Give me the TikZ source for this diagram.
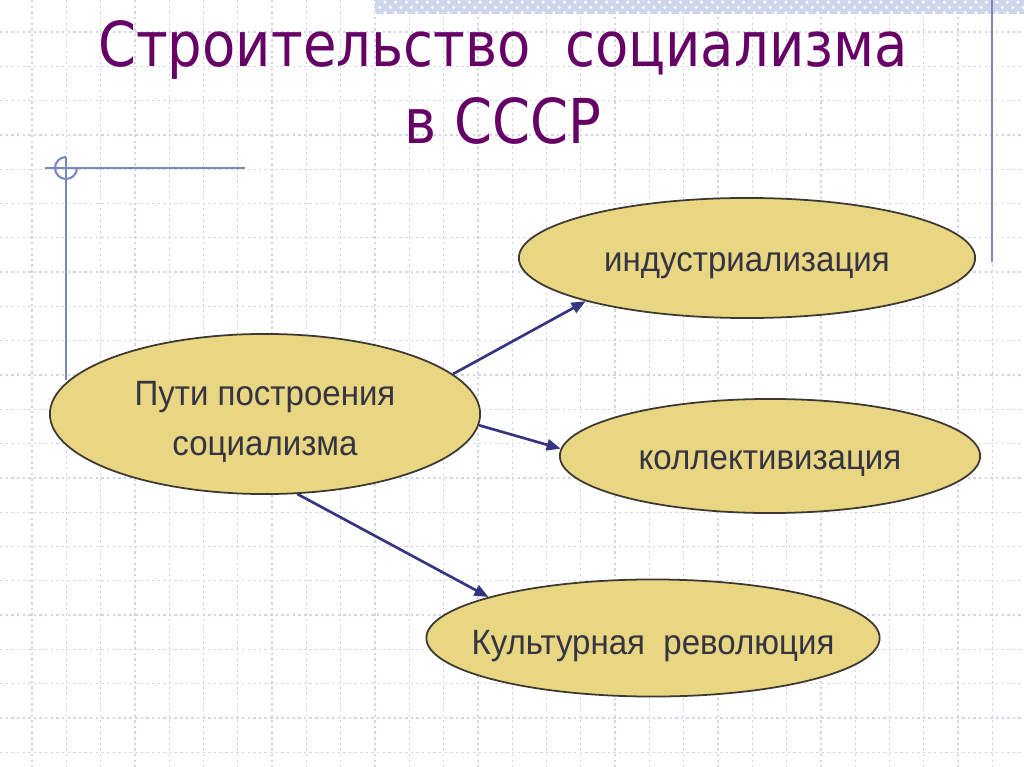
\documentclass[tikz,border=0pt]{standalone}
\usepackage{fontspec}
\setmainfont[FakeStretch=0.94]{Liberation Sans}
\newfontfamily\titlefont[FakeStretch=0.88]{DejaVu Sans}
\usetikzlibrary{shapes.geometric, arrows.meta, patterns}

\definecolor{gridcol}{RGB}{208,214,228}
\definecolor{decocol}{RGB}{122,136,192}
\definecolor{bandcol}{RGB}{206,214,236}
\definecolor{titlecol}{RGB}{102,0,102}
\definecolor{ovalcol}{RGB}{233,214,130}
\definecolor{rimcol}{RGB}{62,56,50}
\definecolor{wordcol}{RGB}{52,52,66}
\definecolor{linkcol}{RGB}{52,52,128}

\tikzset{
  gridline/.style={draw=gridcol, line width=0.35pt, dash pattern=on 0.7pt off 0.9pt},
  deco/.style={draw=decocol, line width=0.6pt},
  way/.style={ellipse, draw=rimcol, fill=ovalcol, line width=0.5pt, inner sep=0pt},
  waytext/.style={text=wordcol, font=\fontsize{10}{14.2}\selectfont, align=center, yshift=-0.08cm},
  link/.style={draw=linkcol, line width=0.75pt, -{Triangle[length=4pt,width=3.2pt]}},
}

\begin{document}
\begin{tikzpicture}[x=0.01cm, y=-0.01cm]
        \useasboundingbox (0,0) rectangle (1024,767);
        \fill[white] (0,0) rectangle (1024,767);
        % squared paper
        \foreach \i in {0,...,28} \draw[gridline] (32+34.3*\i,0) -- (32+34.3*\i,767);
        \foreach \j in {0,...,21} \draw[gridline] (0,32+34.3*\j) -- (1024,32+34.3*\j);
        %
        \fill[bandcol] (375,0) rectangle (1024,14);
        \fill[pattern=crosshatch dots, pattern color=white] (375,0) rectangle (1024,14);
        %
        \draw[deco] (992,0) -- (992,262);
        \draw[deco] (45,168) -- (245,168);
        \draw[deco] (66,157) -- (66,380);
        \draw[deco] (66,157) arc[start angle=270, end angle=0, radius=11];
        % title
        \node[font=\titlefont\fontsize{17.6}{21.9}\selectfont, text=titlecol, align=center] (title) at (503,82) {Строительство\ \ социализма\\в СССР};
        % ovals
        \node[way, minimum width=4.30cm, minimum height=1.60cm, label={[waytext]center:{Пути построения\\социализма}}] (put) at (265,414) {};
        \node[way, minimum width=4.56cm, minimum height=1.20cm, label={[waytext]center:индустриализация}] (ind) at (747,258) {};
        \node[way, minimum width=4.20cm, minimum height=1.14cm, label={[waytext]center:коллективизация}] (kol) at (770,456) {};
        \node[way, minimum width=4.53cm, minimum height=1.17cm, label={[waytext]center:{Культурная\ \ революция}}] (kul) at (653,638) {};
        %
        \draw[link] (put.12) -- (ind.195);
        \draw[link] (put.-3) -- (kol.178);
        \draw[link] (put.-68) -- (kul.166);
    \end{tikzpicture}
\end{document}
